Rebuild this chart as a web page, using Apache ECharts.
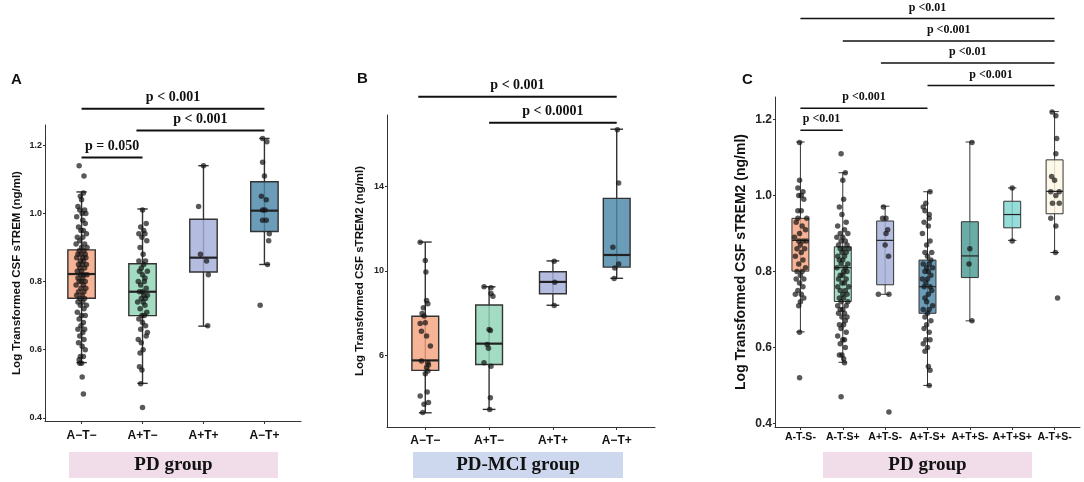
<!DOCTYPE html>
<html>
<head>
<meta charset="utf-8">
<title>CSF sTREM2 by AT(N) group</title>
<script src="https://cdn.jsdelivr.net/npm/echarts@6/dist/echarts.min.js"></script>
<style>
  html, body { margin: 0; padding: 0; background: #fff; }
  #chart { width: 1084px; height: 482px; }
</style>
</head>
<body>
<div id="chart"></div>
<script>
var catsAB = ['A−T−', 'A+T−', 'A+T+', 'A−T+'];
var catsC = ['A-T-S-', 'A-T-S+', 'A+T-S-', 'A+T-S+', 'A+T+S-', 'A+T+S+', 'A-T+S-'];

var ticksA = [0.4, 0.6, 0.8, 1.0, 1.2];
var ticksB = [6, 10, 14];
var ticksC = [0.4, 0.6, 0.8, 1.0, 1.2];

// box stats: [lower whisker, Q1, median, Q3, upper whisker]
var boxA = [[0.562, 0.751, 0.822, 0.893, 1.063], [0.501, 0.700, 0.770, 0.852, 1.013],
            [0.669, 0.828, 0.870, 0.983, 1.140], [0.850, 0.947, 1.008, 1.093, 1.220]];
var boxB = [[3.31, 5.31, 5.78, 7.86, 11.36], [3.47, 5.59, 6.57, 8.39, 9.25],
            [8.38, 8.92, 9.48, 9.96, 10.47], [9.65, 10.18, 10.75, 13.42, 16.68]];
var boxC = [[0.641, 0.801, 0.882, 0.940, 1.141], [0.561, 0.721, 0.810, 0.865, 1.060],
            [0.740, 0.765, 0.882, 0.933, 0.972], [0.500, 0.690, 0.760, 0.830, 1.010],
            [0.670, 0.784, 0.841, 0.931, 1.141], [0.882, 0.915, 0.950, 0.985, 1.020],
            [0.850, 0.952, 1.011, 1.094, 1.221]];

var colAB = ['#f4a27e', '#8fd4b6', '#a3aed8', '#4b86a8'];
var colC = ['#f4a27e', '#8fd4b6', '#a3aed8', '#4b86a8', '#4b9a93', '#7fd4d0', '#fdf7e2'];

// jittered points: [offset (x100 of a category step), value]
var ptsA = [
  [[-4,1.14],[4,1.11],[3,1.06],[-2,1.05],[0,1.04],[-6,1.02],[5,1.01],[-3,1.01],[1,1.00],[7,1.00],[-8,0.99],[2,0.98],[6,0.97],[-5,0.96],[3,0.95],[-1,0.95],[8,0.94],[-7,0.93],[2,0.93],[-3,0.92],[5,0.91],[-9,0.91],[0,0.90],[9,0.90],[-4,0.89],[4,0.89],[-1,0.88],[6,0.88],[-6,0.88],[2,0.87],[-8,0.87],[7,0.87],[-2,0.86],[3,0.86],[-5,0.85],[1,0.85],[8,0.85],[-3,0.84],[5,0.84],[0,0.83],[-7,0.83],[4,0.82],[-2,0.82],[9,0.82],[-6,0.81],[2,0.81],[-4,0.80],[6,0.80],[0,0.80],[-9,0.79],[3,0.79],[7,0.78],[-1,0.78],[-5,0.77],[4,0.77],[1,0.76],[-8,0.76],[5,0.75],[-3,0.75],[2,0.74],[-6,0.74],[8,0.73],[-2,0.73],[4,0.72],[-7,0.71],[0,0.70],[6,0.70],[-4,0.69],[3,0.68],[-1,0.67],[5,0.66],[-6,0.66],[2,0.65],[-3,0.64],[4,0.63],[-5,0.62],[1,0.61],[6,0.60],[-2,0.58],[3,0.58],[-4,0.57],[0,0.56],[-3,0.56],[1,0.52],[3,0.47]],
  [[0,1.01],[6,0.97],[-3,0.96],[2,0.95],[-6,0.94],[4,0.94],[-1,0.93],[7,0.92],[-4,0.90],[1,0.88],[5,0.86],[-6,0.86],[2,0.85],[-2,0.84],[8,0.83],[-5,0.83],[0,0.82],[4,0.81],[-7,0.80],[3,0.80],[-3,0.79],[6,0.78],[0,0.77],[-5,0.77],[8,0.76],[2,0.76],[-2,0.75],[5,0.75],[-8,0.74],[1,0.74],[4,0.73],[-4,0.72],[7,0.71],[-1,0.70],[3,0.70],[-6,0.69],[0,0.68],[5,0.67],[-3,0.66],[8,0.65],[6,0.64],[-7,0.63],[-2,0.62],[1,0.60],[-4,0.59],[-5,0.55],[-1,0.54],[-3,0.50],[0,0.43]],
  [[0,1.14],[-8,1.02],[-5,0.88],[5,0.86],[8,0.82],[7,0.67]],
  [[-3,1.22],[4,1.21],[-3,1.15],[0,1.11],[-5,1.05],[3,1.04],[-3,1.01],[1,1.01],[-3,0.98],[3,0.98],[8,0.94],[7,0.92],[5,0.85],[-7,0.73]]
];
var ptsB = [
  [[-8,11.35],[0,10.49],[1,9.95],[2,8.60],[4,8.45],[-3,8.26],[-5,7.99],[-2,7.87],[0,7.55],[-8,7.52],[-6,7.16],[2,6.93],[8,6.46],[-6,5.75],[4,5.67],[5,5.56],[2,5.44],[4,5.28],[0,5.15],[-8,4.10],[3,4.29],[5,3.79],[-2,3.71],[-4,3.32]],
  [[-8,9.25],[3,9.20],[3,8.93],[6,8.81],[0,7.24],[2,7.19],[-3,6.53],[-1,6.35],[-8,5.67],[3,5.51],[2,4.02],[1,3.47]],
  [[2,10.46],[3,9.47],[2,8.37]],
  [[1,16.65],[3,14.14],[-6,11.12],[3,10.33],[-3,10.14],[-4,9.64]]
];
var ptsC = [
  [[-2,1.14],[-2,1.04],[-6,1.02],[6,1.01],[-4,1.00],[2,1.00],[8,0.99],[2,0.96],[-6,0.96],[-6,0.94],[15,0.94],[-10,0.93],[4,0.92],[12,0.91],[-2,0.90],[-14,0.89],[6,0.88],[-4,0.88],[14,0.88],[0,0.87],[-8,0.86],[10,0.86],[2,0.85],[-12,0.84],[6,0.83],[-4,0.82],[12,0.81],[-8,0.80],[4,0.80],[0,0.79],[-10,0.78],[8,0.78],[-2,0.77],[6,0.76],[-6,0.75],[2,0.74],[-12,0.74],[8,0.73],[0,0.72],[-4,0.71],[-2,0.64],[-2,0.52]],
  [[-4,1.11],[6,1.06],[0,1.04],[2,0.99],[-8,0.97],[-2,0.95],[8,0.93],[-12,0.92],[4,0.91],[-6,0.90],[12,0.90],[0,0.89],[-14,0.89],[6,0.88],[-4,0.88],[10,0.87],[-10,0.87],[2,0.86],[-6,0.86],[14,0.86],[-2,0.85],[8,0.85],[-12,0.84],[4,0.84],[0,0.83],[-8,0.83],[12,0.82],[-4,0.82],[6,0.81],[-14,0.81],[2,0.80],[10,0.80],[-6,0.79],[0,0.79],[-10,0.78],[8,0.78],[4,0.77],[-2,0.77],[14,0.76],[-12,0.76],[-6,0.75],[6,0.75],[0,0.74],[10,0.74],[-8,0.73],[2,0.73],[-4,0.72],[12,0.72],[8,0.71],[-12,0.71],[0,0.70],[-6,0.70],[4,0.69],[-10,0.69],[10,0.68],[-2,0.68],[6,0.67],[-8,0.66],[2,0.66],[-4,0.65],[8,0.64],[-12,0.63],[0,0.62],[4,0.62],[-6,0.61],[6,0.60],[-2,0.58],[-8,0.58],[2,0.57],[4,0.56],[-4,0.47]],
  [[-4,0.97],[-6,0.94],[2,0.94],[6,0.91],[2,0.90],[0,0.87],[8,0.84],[-16,0.74],[9,0.74],[9,0.43]],
  [[6,1.01],[-4,0.98],[-10,0.97],[-6,0.96],[4,0.95],[4,0.94],[-8,0.93],[2,0.92],[-12,0.90],[6,0.88],[-2,0.87],[10,0.85],[-6,0.85],[0,0.84],[8,0.83],[-10,0.82],[4,0.82],[-2,0.81],[12,0.81],[-6,0.80],[2,0.80],[8,0.79],[-12,0.78],[0,0.78],[-4,0.77],[6,0.76],[-8,0.76],[10,0.75],[2,0.74],[-6,0.73],[-2,0.72],[12,0.71],[-10,0.70],[4,0.70],[0,0.69],[-6,0.68],[8,0.67],[-2,0.66],[-8,0.65],[4,0.64],[-4,0.62],[6,0.62],[-10,0.61],[0,0.60],[-6,0.59],[2,0.55],[6,0.54],[4,0.50]],
  [[5,1.14],[0,0.86],[-2,0.82],[5,0.67]],
  [[0,1.02],[0,0.88]],
  [[-6,1.22],[3,1.21],[5,1.15],[3,1.11],[-7,1.05],[0,1.04],[-9,1.01],[11,1.01],[3,1.00],[-5,0.98],[11,0.98],[-9,0.94],[3,0.92],[2,0.85],[7,0.73]]
];

// significance brackets: [from category, to category, y value]
var sigA = [[1, 4, 1.307], [1.9, 4, 1.243], [1, 2, 1.164]];
var sigAText = ['p < 0.001', 'p < 0.001', 'p = 0.050'];
var sigB = [[0.89, 4, 18.21], [2, 4, 16.99]];
var sigBText = ['p < 0.001', 'p < 0.0001'];
var sigC = [[1, 7, 1.466], [2, 7, 1.407], [2.9, 7, 1.349], [4, 7, 1.290], [1, 4, 1.230], [1, 2, 1.172]];
var sigCText = ['p <0.01', 'p <0.001', 'p <0.01', 'p <0.001', 'p <0.001', 'p <0.01'];

var SANS = '"Liberation Sans", Arial, sans-serif';
var SERIF = '"Liberation Serif", "Times New Roman", serif';

var chart = echarts.init(document.getElementById('chart'));

function positions(cats) {
  return cats.map(function (c, i) { return i + 1; });
}

function xAx(gi, cats, fontSize, margin) {
  var pos = positions(cats);
  return {
    type: 'value', gridIndex: gi, min: 0.4, max: cats.length + 0.6,
    axisLine: { show: true, onZero: false, lineStyle: { color: '#333', width: 1 } },
    axisTick: { show: true, customValues: pos, length: 3, lineStyle: { color: '#333' } },
    axisLabel: {
      customValues: pos, margin: margin, fontSize: fontSize, fontWeight: 'bold',
      fontFamily: SANS, color: '#111',
      formatter: function (v) { return cats[Math.round(v) - 1] || ''; }
    },
    splitLine: { show: false }
  };
}

function yAx(gi, min, max, ticks, digits, name, nameSize, nameGap, labelSize) {
  return {
    type: 'value', gridIndex: gi, min: min, max: max,
    name: name, nameLocation: 'middle', nameGap: nameGap,
    nameTextStyle: { fontSize: nameSize, fontWeight: 'bold', fontFamily: SANS, color: '#111' },
    axisLine: { show: true, onZero: false, lineStyle: { color: '#333', width: 1 } },
    axisTick: { show: true, customValues: ticks, length: 2, lineStyle: { color: '#333' } },
    axisLabel: {
      customValues: ticks, margin: 3, fontSize: labelSize, fontWeight: 'bold',
      fontFamily: SANS, color: '#222',
      formatter: function (v) { return v.toFixed(digits); }
    },
    splitLine: { show: false }
  };
}

function boxSeries(gi, stats, colors, widthFrac, capFrac, lw, medLw) {
  return {
    type: 'custom', xAxisIndex: gi, yAxisIndex: gi, z: 2,
    data: stats.map(function (s, i) { return [i + 1].concat(s); }),
    encode: { x: 0, y: [1, 2, 3, 4, 5] },
    renderItem: function (params, api) {
      var x = api.value(0);
      var band = api.size([1, 0])[0];
      var hw = band * widthFrac / 2, cw = band * capFrac / 2;
      var lo = api.coord([x, api.value(1)]);
      var q1 = api.coord([x, api.value(2)]);
      var md = api.coord([x, api.value(3)]);
      var q3 = api.coord([x, api.value(4)]);
      var hi = api.coord([x, api.value(5)]);
      var ls = { stroke: '#333', lineWidth: lw };
      return {
        type: 'group', children: [
          { type: 'line', shape: { x1: lo[0], y1: lo[1], x2: hi[0], y2: hi[1] }, style: ls },
          { type: 'line', shape: { x1: lo[0] - cw, y1: lo[1], x2: lo[0] + cw, y2: lo[1] }, style: ls },
          { type: 'line', shape: { x1: hi[0] - cw, y1: hi[1], x2: hi[0] + cw, y2: hi[1] }, style: ls },
          { type: 'rect', shape: { x: q3[0] - hw, y: q3[1], width: hw * 2, height: q1[1] - q3[1] },
            style: { fill: echarts.color.modifyAlpha(colors[params.dataIndex], 0.82), stroke: '#333', lineWidth: lw } },
          { type: 'line', shape: { x1: md[0] - hw, y1: md[1], x2: md[0] + hw, y2: md[1] },
            style: { stroke: '#222', lineWidth: medLw } }
        ]
      };
    }
  };
}

function pointSeries(gi, groups, size) {
  var data = [];
  groups.forEach(function (g, i) {
    g.forEach(function (p) { data.push([i + 1 + p[0] / 100, p[1]]); });
  });
  return {
    type: 'scatter', xAxisIndex: gi, yAxisIndex: gi, z: 3, data: data,
    symbolSize: size, itemStyle: { color: 'rgba(18,18,18,0.88)' }
  };
}

function sigSeries(gi, sig, labels, fontSize, lw) {
  return {
    type: 'custom', xAxisIndex: gi, yAxisIndex: gi, z: 4, clip: false,
    data: sig, encode: { x: [0, 1], y: 2 },
    renderItem: function (params, api) {
      var a = api.coord([api.value(0), api.value(2)]);
      var b = api.coord([api.value(1), api.value(2)]);
      return {
        type: 'group', children: [
          { type: 'line', shape: { x1: a[0], y1: a[1], x2: b[0], y2: b[1] }, style: { stroke: '#111', lineWidth: lw } },
          { type: 'text', x: (a[0] + b[0]) / 2, y: a[1] - 11,
            style: { text: labels[params.dataIndex], fill: '#111', fontSize: fontSize, fontWeight: 'bold',
                     fontFamily: SERIF, align: 'center', verticalAlign: 'middle' } }
        ]
      };
    }
  };
}

function groupBox(x, w, fill, text) {
  return {
    type: 'group', children: [
      { type: 'rect', shape: { x: x, y: 452, width: w, height: 26 }, style: { fill: fill } },
      { type: 'text', x: x + w / 2, y: 465,
        style: { text: text, fill: '#111', fontSize: 19, fontWeight: 'bold', fontFamily: SERIF,
                 align: 'center', verticalAlign: 'middle' } }
    ]
  };
}

var letterStyle = { fontSize: 15, fontWeight: 'bold', fontFamily: SANS, color: '#111' };

chart.setOption({
  animation: false,
  backgroundColor: '#fff',
  title: [
    { text: 'A', left: 11, top: 72, padding: 0, textStyle: letterStyle },
    { text: 'B', left: 357, top: 71, padding: 0, textStyle: letterStyle },
    { text: 'C', left: 742, top: 72, padding: 0, textStyle: letterStyle }
  ],
  grid: [
    { left: 45, width: 256, top: 125, height: 296, outerBoundsMode: 'none' },
    { left: 387, width: 268, top: 115, height: 312, outerBoundsMode: 'none' },
    { left: 775, width: 305, top: 97, height: 330, outerBoundsMode: 'none' }
  ],
  xAxis: [xAx(0, catsAB, 12, 9), xAx(1, catsAB, 12, 8), xAx(2, catsC, 10.5, 5)],
  yAxis: [
    yAx(0, 0.3905, 1.2595, ticksA, 1, 'Log Transformed CSF sTREM (ng/ml)', 11.5, 22, 9),
    yAx(1, 2.64, 17.35, ticksB, 0, 'Log Transformed CSF sTREM2 (ng/ml)', 11.5, 21, 9),
    yAx(2, 0.3905, 1.2595, ticksC, 1, 'Log Transformed CSF sTREM2 (ng/ml)', 14, 27, 12)
  ],
  graphic: [
    groupBox(69, 209, '#f1dcea', 'PD group'),
    groupBox(413, 210, '#cdd8ef', 'PD-MCI group'),
    groupBox(823, 209, '#f1dcea', 'PD group')
  ],
  series: [
    boxSeries(0, boxA, colAB, 0.45, 0.17, 1.4, 2.2),
    pointSeries(0, ptsA, 5.5),
    sigSeries(0, sigA, sigAText, 14, 2),
    boxSeries(1, boxB, colAB, 0.42, 0.2, 1.4, 2.2),
    pointSeries(1, ptsB, 5.5),
    sigSeries(1, sigB, sigBText, 14, 2),
    boxSeries(2, boxC, colC, 0.4, 0.2, 1, 1.2),
    pointSeries(2, ptsC, 5.5),
    sigSeries(2, sigC, sigCText, 12, 1.5)
  ]
});
</script>
</body>
</html>
